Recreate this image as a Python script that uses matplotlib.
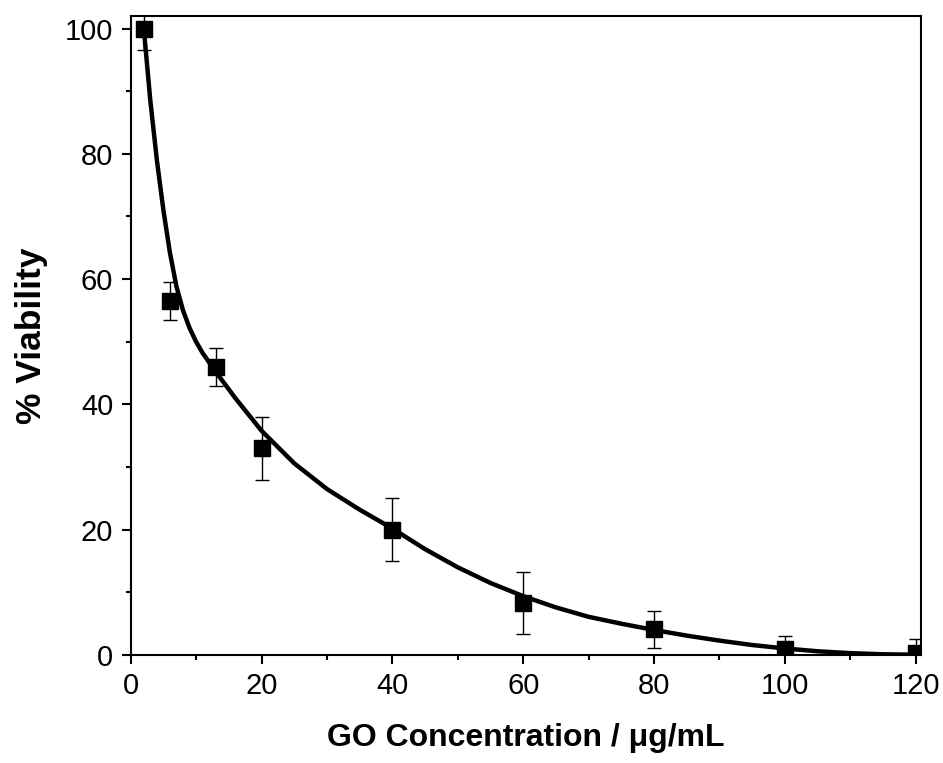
import matplotlib
matplotlib.use("Agg")
import matplotlib.pyplot as plt
from matplotlib.ticker import MultipleLocator

plt.rcParams['font.family'] = ['Liberation Sans', 'DejaVu Sans']

# measured data
conc = [2, 6, 13, 20, 40, 60, 80, 100, 120]
viability = [100, 56.5, 46, 33, 20, 8.3, 4.1, 1.0, 0.3]
err = [3.5, 3.0, 3.0, 5.0, 5.0, 5.0, 3.0, 2.0, 2.2]

# fitted curve
fit_x = [2, 3, 4, 5, 6, 7, 8, 9, 10, 11, 13, 16, 20, 25, 30, 35, 40, 45, 50,
         55, 60, 65, 70, 75, 80, 85, 90, 95, 100, 105, 110, 115, 120]
fit_y = [100, 88.5, 79, 71, 64.2, 58.8, 55.0, 52.2, 50.0, 48.2, 45.2, 41.0,
         35.8, 30.6, 26.5, 23.2, 20.2, 16.9, 14.0, 11.5, 9.4, 7.6, 6.1, 5.0,
         4.0, 3.1, 2.3, 1.6, 1.05, 0.6, 0.3, 0.12, 0.05]

fig = plt.figure(figsize=(9.43, 7.63), dpi=100)
ax = fig.add_axes([0.1386, 0.1415, 0.838, 0.8375])

ax.plot(fit_x, fit_y, color='black', lw=3.2, zorder=2,
        solid_capstyle='round', solid_joinstyle='round')
ax.errorbar(conc, viability, yerr=err, fmt='s', color='black', ms=11,
            ecolor='black', elinewidth=1.0, capsize=4.7, capthick=1.0, zorder=3)

ax.set_xlim(0, 120.8)
ax.set_ylim(0, 102)
ax.xaxis.set_major_locator(MultipleLocator(20))
ax.xaxis.set_minor_locator(MultipleLocator(10))
ax.yaxis.set_major_locator(MultipleLocator(20))
ax.yaxis.set_minor_locator(MultipleLocator(10))

for s in ax.spines.values():
    s.set_linewidth(1.5)
ax.tick_params(which='major', direction='out', length=6.5, width=1.5,
               labelsize=21, top=False, right=False, pad=6)
ax.tick_params(which='minor', direction='out', length=3.6, width=1.5,
               top=False, right=False)

ax.set_xlabel('GO Concentration / \u03bcg/mL', fontsize=23, fontweight='bold', labelpad=16)
ax.set_ylabel('% Viability', fontsize=25.5, fontweight='bold', labelpad=12)

fig.savefig('out.png', dpi=100)
